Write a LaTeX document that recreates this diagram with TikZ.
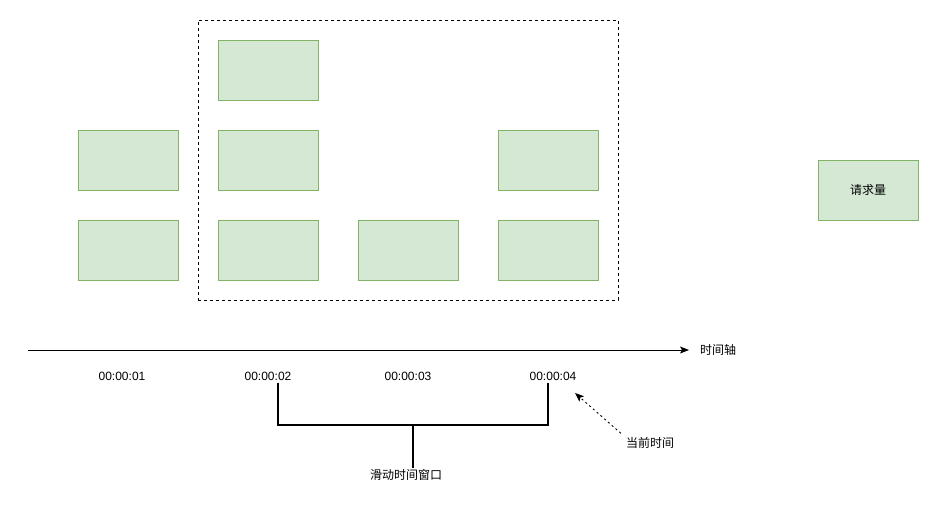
\documentclass[tikz,border=0pt]{standalone}
\usepackage{fontspec}
\setmainfont{Liberation Sans}
\newfontfamily\cjk{Noto Sans CJK SC}
\usetikzlibrary{arrows.meta, positioning, calc}
\definecolor{boxfill}{HTML}{D5E8D4}
\definecolor{boxline}{HTML}{82B366}

\begin{document}
\begin{tikzpicture}[x=1pt,y=-1pt,>={Stealth[length=9pt,width=7pt,inset=2pt]},
    reqbox/.style={draw=boxline, fill=boxfill, line width=0.9pt, minimum width=100pt, minimum height=60pt, inner sep=0pt, font=\cjk\fontsize{12}{14}\selectfont},
    tlabel/.style={font=\fontsize{12}{14}\selectfont, inner sep=1pt},
    cnlabel/.style={font=\cjk\fontsize{12}{14}\selectfont, inner sep=1pt}]
    \useasboundingbox (0,0) rectangle (938,511);

    % window
    \node[draw, dash pattern=on 3pt off 3pt, line width=0.8pt, minimum width=420pt, minimum height=280pt, inner sep=0pt] (Window) at (408,160) {};

    % requests per second
    \node[reqbox] (A2) at (128,160) {};
    \node[reqbox] (A3) at (128,250) {};
    \node[reqbox] (B1) at (268,70) {};
    \node[reqbox] (B2) at (268,160) {};
    \node[reqbox] (B3) at (268,250) {};
    \node[reqbox] (C3) at (408,250) {};
    \node[reqbox] (D2) at (548,160) {};
    \node[reqbox] (D3) at (548,250) {};
    \node[reqbox] (Legend) at (868,190) {请求量};

    % time axis
    \coordinate (AxisStart) at (28,350);
    \node[cnlabel, anchor=west] (Axis) at (699,350) {时间轴};
    \draw[->, line width=0.9pt] (AxisStart) -- ($(Axis.west)+(-10,0)$);

    \node[tlabel] (T1) at (122,376) {00:00:01};
    \node[tlabel] (T2) at (268,376) {00:00:02};
    \node[tlabel] (T3) at (408,376) {00:00:03};
    \node[tlabel] (T4) at (553,376) {00:00:04};

    % sliding window bracket
    \coordinate (WinL) at (278,383);
    \coordinate (WinR) at (548,383);
    \coordinate (WinMid) at (413,425);
    \node[cnlabel] (WinLabel) at (406,475) {滑动时间窗口};
    \draw[line width=1.8pt] (WinL) |- (WinMid) -| (WinR);
    \draw[line width=1.8pt] (WinMid) -- (WinMid |- WinLabel.north);

    % current time
    \node[cnlabel] (Now) at (650,443) {当前时间};
    \coordinate (NowTip) at (575,393);
    \draw[->, dash pattern=on 2pt off 3pt, line width=0.9pt] ($(Now.north west)+(-4,-3)$) -- (NowTip);
\end{tikzpicture}
\end{document}
